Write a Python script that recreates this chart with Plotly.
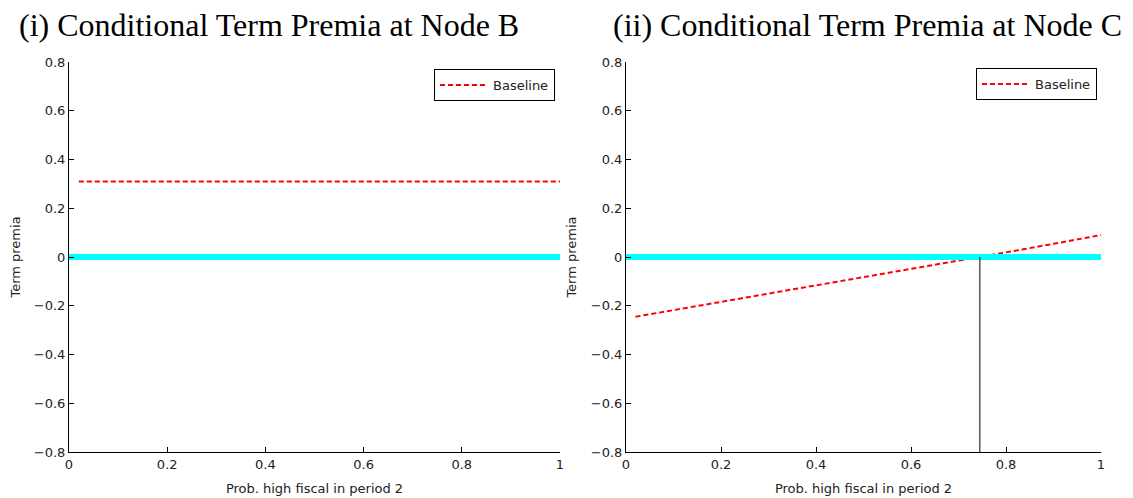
import plotly.graph_objects as go

# ---- data ----
prob_b = [0.02, 1.0]
premia_b = [0.31, 0.31]

prob_c = [0.02, 0.1, 0.2, 0.3, 0.4, 0.5, 0.6, 0.7, 0.8, 0.9, 1.0]
premia_c = [-0.245, -0.218, -0.184, -0.152, -0.118, -0.082, -0.048, -0.017, 0.019, 0.054, 0.09]

zero_x = [0.0, 1.0]
zero_y = [0.0, 0.0]

crossing_x = [0.745, 0.745]
crossing_y = [-0.8, 0.0]

x_ticks = [0, 0.2, 0.4, 0.6, 0.8, 1]
x_ticktext = ["0", "0.2", "0.4", "0.6", "0.8", "1"]
y_ticks = [-0.8, -0.6, -0.4, -0.2, 0, 0.2, 0.4, 0.6, 0.8]
y_ticktext = ["\u22120.8", "\u22120.6", "\u22120.4", "\u22120.2", "0", "0.2", "0.4", "0.6", "0.8"]

titles = ["(i) Conditional Term Premia at Node B", "(ii) Conditional Term Premia at Node C"]

# page body has an 8px margin; figure is sized to fit the window
W, H = 1125, 490
red_line = dict(color="#ff0000", width=2, dash="5px,3px")
cyan_line = dict(color="#00ffff", width=6)

fig = go.Figure()

# Panel B
fig.add_trace(go.Scatter(x=prob_b, y=premia_b, mode="lines", line=red_line, name="Baseline",
                         xaxis="x", yaxis="y", legend="legend"))
fig.add_trace(go.Scatter(x=zero_x, y=zero_y, mode="lines", line=cyan_line, showlegend=False,
                         xaxis="x", yaxis="y"))
# Panel C
fig.add_trace(go.Scatter(x=prob_c, y=premia_c, mode="lines", line=red_line, name="Baseline",
                         xaxis="x2", yaxis="y2", legend="legend2"))
fig.add_trace(go.Scatter(x=zero_x, y=zero_y, mode="lines", line=cyan_line, showlegend=False,
                         xaxis="x2", yaxis="y2"))
fig.add_trace(go.Scatter(x=crossing_x, y=crossing_y, mode="lines", line=dict(color="black", width=1),
                         showlegend=False, xaxis="x2", yaxis="y2"))

tickfont = dict(family="DejaVu Sans, Arial, sans-serif", size=13, color="#222222")
axis_common = dict(showline=True, linecolor="black", linewidth=1, ticks="inside", ticklen=5,
                   tickcolor="black", showgrid=False, zeroline=False, tickfont=tickfont,
                   mirror=False, automargin=False)

def xaxis(domain, anchor):
    return dict(axis_common, domain=domain, anchor=anchor, range=[0, 1],
                tickvals=x_ticks, ticktext=x_ticktext,
                title=dict(text="Prob. high fiscal in period 2", font=tickfont, standoff=13))

def yaxis(domain, anchor):
    return dict(axis_common, domain=domain, anchor=anchor, range=[-0.8, 0.8],
                tickvals=y_ticks, ticktext=y_ticktext,
                title=dict(text="Term premia", font=tickfont, standoff=11))

ydom = [1 - 444 / H, 1 - 54 / H]

legend_common = dict(bgcolor="white", bordercolor="black", borderwidth=1,
                     font=dict(family="DejaVu Sans, Arial, sans-serif", size=13, color="#222222"),
                     yanchor="top", xanchor="right", tracegroupgap=0,
                     itemwidth=48)

title_font = dict(family="Liberation Serif, Times New Roman, serif", size=32, color="black")

fig.update_layout(
    width=W, height=H,
    margin=dict(l=0, r=0, t=0, b=0, autoexpand=False),
    paper_bgcolor="white", plot_bgcolor="white",
    xaxis=xaxis([61 / W, 552 / W], "y"),
    yaxis=yaxis(ydom, "x"),
    xaxis2=xaxis([618 / W, 1093 / W], "y2"),
    yaxis2=yaxis(ydom, "x2"),
    legend=dict(legend_common, x=547 / W, y=1 - 61 / H),
    legend2=dict(legend_common, x=1089 / W, y=1 - 60 / H),
    annotations=[
        dict(text=titles[0], x=9 / W, y=1 + 3 / H, xref="paper", yref="paper",
             xanchor="left", yanchor="top", showarrow=False, font=title_font),
        dict(text=titles[1], x=603 / W, y=1 + 3 / H, xref="paper", yref="paper",
             xanchor="left", yanchor="top", showarrow=False, font=title_font),
    ],
)

fig.write_html("out.html")
